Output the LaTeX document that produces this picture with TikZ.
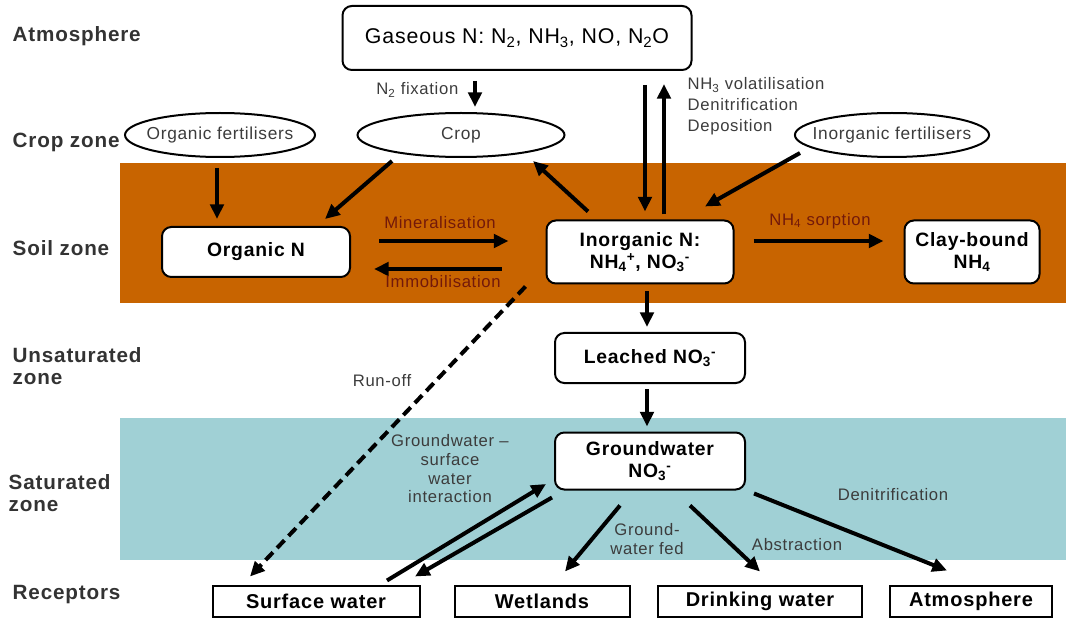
\documentclass[tikz,border=0pt]{standalone}
\usepackage{fontspec}
\setmainfont{Liberation Sans}[LetterSpace=4]
\usetikzlibrary{shapes.geometric,arrows.meta,calc}
\definecolor{soil}{RGB}{200,100,0}
\definecolor{water}{RGB}{160,208,213}
\definecolor{soiltext}{RGB}{115,25,10}
\definecolor{labelgray}{RGB}{60,60,60}

\begin{document}
\begin{tikzpicture}[x=0.75pt,y=-0.75pt,
  pool/.style={draw,line width=1.5pt,rounded corners=7pt,fill=white,inner sep=0pt,
    align=center,font=\fontsize{14.5}{17}\selectfont\bfseries},
  source/.style={draw,ellipse,line width=1.5pt,fill=white,inner xsep=-8pt,inner ysep=0pt,
    minimum height=33pt,font=\fontsize{13}{15}\selectfont,text=labelgray},
  receptor/.style={draw,line width=1.5pt,fill=white,inner sep=0pt,
    minimum height=23.25pt,font=\fontsize{15}{17}\selectfont\bfseries},
  zone/.style={anchor=west,align=left,font=\fontsize{15.5}{17}\selectfont\bfseries,text=black!80},
  note/.style={font=\fontsize{12.5}{14}\selectfont,text=labelgray,align=center},
  flow/.style={line width=3pt,-{Triangle[length=11pt,width=10pt]}}]
\useasboundingbox (0,0) rectangle (1071,620);

% zones
\fill[soil] (120,163) rectangle (1066,303);
\fill[water] (120,418) rectangle (1066,560);
\node[zone] (zatm) at (8,36) {Atmosphere};
\node[zone] (zcrop) at (8,142) {Crop zone};
\node[zone] (zsoil) at (8,248) {Soil zone};
\node[zone] (zuns) at (8,366) {Unsaturated\\zone};
\node[zone] (zsat) at (4,493) {Saturated\\zone};
\node[zone] (zrec) at (8,595) {Receptors};

% pools
\node[pool,minimum width=261.75pt,minimum height=48pt,font=\fontsize{16}{18}\selectfont\mdseries]
  (gas) at (517,38) {Gaseous N: N\textsubscript{2}, NH\textsubscript{3}, NO, N\textsubscript{2}O};
\node[source,minimum width=155.25pt] (crop) at (461,135) {Crop};
\node[source,minimum width=142.5pt] (orgfert) at (220,135) {Organic fertilisers};
\node[source,minimum width=142.5pt] (inorgfert) at (892,135) {Inorganic fertilisers};
\node[pool,minimum width=141pt,minimum height=37.5pt] (orgN) at (256,252) {Organic N};
\node[pool,minimum width=140.25pt,minimum height=47.25pt] (inorgN) at (640,252)
  {Inorganic N:\\NH\textsubscript{4}\textsuperscript{+}, NO\textsubscript{3}\textsuperscript{-}};
\node[pool,minimum width=101.25pt,minimum height=47.25pt] (clay) at (972,252) {Clay-bound\\NH\textsubscript{4}};
\node[pool,minimum width=142.5pt,minimum height=37.5pt] (leached) at (650,358)
  {Leached NO\textsubscript{3}\textsuperscript{-}};
\node[pool,minimum width=142.5pt,minimum height=42.75pt] (gw) at (650,461)
  {Groundwater\\NO\textsubscript{3}\textsuperscript{-}};

% receptors
\node[receptor,minimum width=155.25pt] (surf) at (316,601) {Surface water};
\node[receptor,minimum width=131.25pt] (wet) at (542,601) {Wetlands};
\node[receptor,minimum width=153pt] (drink) at (760,601) {Drinking water};
\node[receptor,minimum width=121.5pt] (atmos) at (971,601) {Atmosphere};

% fluxes
\draw[flow] ($(gas.south)+(-42,10)$) -- ($(crop.north)+(14,-5)$);
\draw[flow] ($(gas.south)+(128,14)$) -- ($(inorgN.north)+(5,-8)$);
\draw[flow] ($(inorgN.north)+(24,-5)$) -- ($(gas.south)+(147,13)$);
\draw[flow] ($(orgfert.south)+(-3,10)$) -- ($(orgN.north)+(-39,-7)$);
\draw[flow] ($(crop.south)+(-69,3)$) -- ($(orgN.north)+(69,-7)$);
\draw[flow] ($(inorgN.north)+(-52,-8)$) -- ($(crop.south)+(72,3)$);
\draw[flow] ($(inorgfert.south)+(-92,-5)$) -- ($(inorgN.north)+(65,-13)$);
\draw[flow] ($(orgN.east)+(28,-11)$) -- ($(inorgN.west)+(-37,-11)$);
\draw[flow] ($(inorgN.west)+(-44,17)$) -- ($(orgN.east)+(23,17)$);
\draw[flow] ($(inorgN.east)+(19,-11)$) -- ($(clay.west)+(-20,-11)$);
\draw[flow] ($(inorgN.south)+(7,7)$) -- ($(leached.north)+(-3,-5)$);
\draw[flow] ($(leached.south)+(-3,5)$) -- ($(gw.north)+(-3,-5)$);
\draw[flow,dash pattern=on 8pt off 4.5pt] ($(inorgN.south west)+(-20,2)$) -- ($(surf.north)+(-66,-8)$);
\draw[flow] ($(surf.north)+(71,-4)$) -- ($(gw.west)+(-8,23)$);
\draw[flow] ($(gw.south west)+(-2,7)$) -- ($(surf.north)+(99,-8)$);
\draw[flow] ($(gw.south)+(-30,15)$) -- ($(wet.north)+(23,-13)$);
\draw[flow] ($(gw.south)+(40,15)$) -- ($(drink.north)+(0,-13)$);
\draw[flow] ($(gw.south east)+(8,3)$) -- ($(atmos.north)+(-24,-14)$);

% flux labels
\node[note,anchor=east] (lfix) at (463,90) {N\textsubscript{2} fixation};
\node[note,anchor=north west,align=left,font=\fontsize{12.5}{15.75}\selectfont] (lvol) at (683,73)
  {NH\textsubscript{3} volatilisation\\Denitrification\\Deposition};
\node[note,text=soiltext] (lmin) at (440,223) {Mineralisation};
\node[note,text=soiltext] (limm) at (443,282) {Immobilisation};
\node[note,text=soiltext] (lsorp) at (820,221) {NH\textsubscript{4} sorption};
\node[note] (lrun) at (382,381) {Run-off};
\node[note] (lint) at (450,469) {Groundwater --\\surface\\water\\interaction};
\node[note] (lfed) at (647,539) {Ground-\\water fed};
\node[note] (labs) at (797,545) {Abstraction};
\node[note] (lden) at (893,495) {Denitrification};
\end{tikzpicture}
\end{document}
